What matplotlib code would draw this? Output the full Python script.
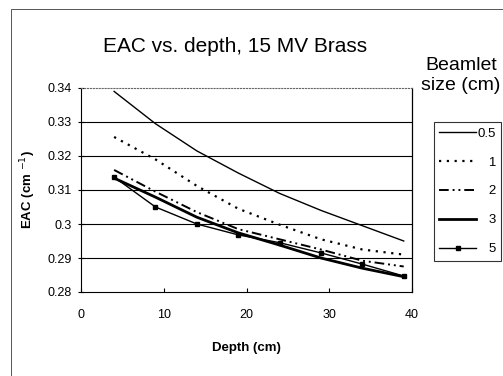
import matplotlib
matplotlib.use("Agg")
import matplotlib.pyplot as plt
from matplotlib.patches import Rectangle

plt.rcParams['font.family'] = ['Liberation Sans', 'DejaVu Sans']

depth = [4, 9, 14, 19, 24, 29, 34, 39]
eac_05 = [0.339, 0.3295, 0.3215, 0.315, 0.309, 0.304, 0.2995, 0.295]
eac_1 = [0.3256, 0.319, 0.3112, 0.3045, 0.2998, 0.2955, 0.2925, 0.291]
eac_2 = [0.3159, 0.3095, 0.3035, 0.2985, 0.2955, 0.2925, 0.2892, 0.2875]
eac_3 = [0.3135, 0.3079, 0.302, 0.2974, 0.2938, 0.290, 0.287, 0.2845]
eac_5 = [0.3138, 0.305, 0.300, 0.2968, 0.2945, 0.2915, 0.2882, 0.2847]
labels = ['0.5', '1', '2', '3', '5']
xticks = [0, 10, 20, 30, 40]
yticks = [0.28, 0.29, 0.30, 0.31, 0.32, 0.33, 0.34]
yticklabels = ['0.28', '0.29', '0.3', '0.31', '0.32', '0.33', '0.34']

# right-align legend labels by padding with spaces (digit = 2 spaces, '.' = 1 space)
def _w(s):
    return sum(2 if c.isdigit() else 1 for c in s)
_maxw = max(_w(s) for s in labels)
disp = [' ' * (_maxw - _w(s)) + s for s in labels]

fig = plt.figure(figsize=(5.03, 3.76), dpi=100)
fig.patches.append(Rectangle((11/503, -0.01), 1.0, 1 - 9/376 + 0.01,
                             transform=fig.transFigure, fill=False,
                             edgecolor='#555555', linewidth=0.7))
ax = fig.add_axes([81/503, 1 - 292/376, 331/503, 204/376])

ax.plot(depth, eac_05, color='black', lw=1.0, label=disp[0])
ax.plot(depth, eac_1, color='black', lw=1.6, linestyle=(0, (1, 2.5)), label=disp[1])
ax.plot(depth, eac_2, color='black', lw=1.4, linestyle=(0, (5, 2, 1, 2, 1, 2)), label=disp[2])
ax.plot(depth, eac_3, color='black', lw=2.0, label=disp[3])
ax.plot(depth, eac_5, color='black', lw=1.0, marker='s', markersize=3.5, label=disp[4])

ax.set_xlim(0, 40)
ax.set_ylim(0.28, 0.34)
ax.set_xticks(xticks)
ax.set_yticks(yticks)
ax.set_yticklabels(yticklabels)
for y in yticks[1:-1]:
    ax.axhline(y, color='black', lw=0.8, zorder=0)
ax.spines['top'].set_linestyle(':')
ax.spines['top'].set_color('#666666')
ax.spines['right'].set_linewidth(0.9)
ax.tick_params(axis='x', direction='in', length=3, labelsize=9, pad=12)
ax.tick_params(axis='y', direction='inout', length=5, labelsize=9, pad=4)

ax.set_xlabel('Depth (cm)', fontsize=9.5, fontweight='bold', labelpad=15)
ax.set_ylabel(r'EAC (cm $^{-1}$)', fontsize=9.5, fontweight='bold', labelpad=7)

fig.text(235/503, 1 - 46/376, 'EAC vs. depth, 15 MV Brass', fontsize=15,
         ha='center', va='center')
fig.text(461/503, 1 - 75.5/376, 'Beamlet\nsize (cm)', fontsize=14,
         ha='center', va='center', linespacing=1.25)

leg = ax.legend(loc='upper left', bbox_to_anchor=(434/503, 1 - 122/376),
                bbox_transform=fig.transFigure, borderaxespad=0, frameon=True,
                fancybox=False, fontsize=9.5, handlelength=2.8, handletextpad=0.1,
                labelspacing=1.27, borderpad=0.4)
leg.get_frame().set_edgecolor('black')
leg.get_frame().set_linewidth(0.8)

fig.savefig('out.png', dpi=100)
